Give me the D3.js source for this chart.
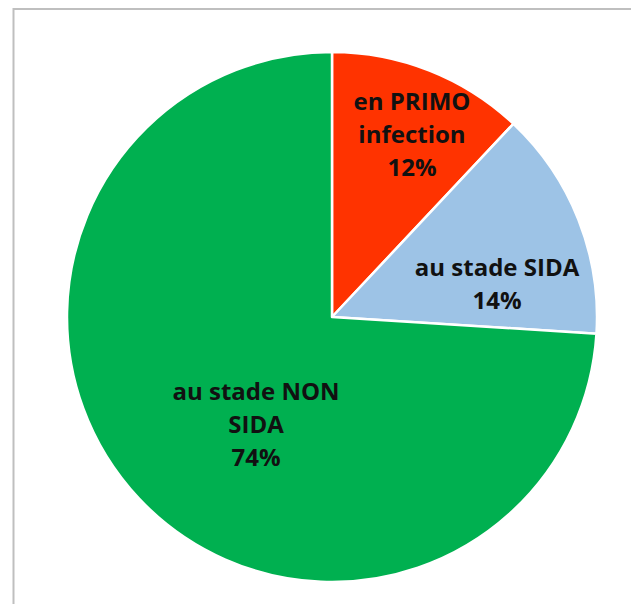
<!DOCTYPE html>
<html>
<head>
<meta charset="utf-8">
<script src="https://cdn.jsdelivr.net/npm/d3@7"></script>
<style>
  body { margin: 0; background: #fff; }
</style>
</head>
<body>
<div class="main"></div>
<script>
const categories = ["en PRIMO infection", "au stade SIDA", "au stade NON SIDA"];
const values = [12, 14, 74];
const labelLines = [["en PRIMO", "infection", "12%"], ["au stade SIDA", "14%"], ["au stade NON", "SIDA", "74%"]];
const colors = ["#ff3300", "#9dc3e6", "#00b050"];

const width = 631, height = 604;
const cx = 332, cy = 317, radius = 265;

const svg = d3.select(".main").append("svg")
    .attr("width", width)
    .attr("height", height);

// chart frame (only top and left edges fall inside the picture)
svg.append("path")
    .attr("d", "M13.5," + height + " V9 H" + width)
    .attr("fill", "none")
    .attr("stroke", "#bfbfbf")
    .attr("stroke-width", 2);

const g = svg.append("g")
    .attr("transform", "translate(" + cx + "," + cy + ")");

const data = categories.map((c, i) => ({ name: c, value: values[i], lines: labelLines[i], color: colors[i] }));

const pie = d3.pie()
    .sort(null)
    .value(d => d.value);

const arc = d3.arc()
    .outerRadius(radius)
    .innerRadius(0);

const slices = g.selectAll(".slice")
    .data(pie(data))
    .enter()
    .append("g")
    .attr("class", "slice");

slices.append("path")
    .attr("d", arc)
    .attr("fill", d => d.data.color)
    .attr("stroke", "#fff")
    .attr("stroke-width", 2.5)
    .attr("stroke-linejoin", "round");

// label positions relative to the centre
const labelPos = [[80, -182], [165, -33], [-76, 108]];
const lineH = 33;

slices.append("text")
    .attr("text-anchor", "middle")
    .attr("font-family", "'Open Sans', Lato, sans-serif")
    .attr("font-weight", "bold")
    .attr("font-size", 24)
    .attr("fill", "#111")
    .each(function (d, i) {
        const t = d3.select(this);
        const n = d.data.lines.length;
        d.data.lines.forEach((line, k) => {
            t.append("tspan")
                .attr("x", labelPos[i][0])
                .attr("y", labelPos[i][1] + (k - (n - 1) / 2) * lineH)
                .attr("dy", "0.35em")
                .text(line);
        });
    });
</script>
</body>
</html>
